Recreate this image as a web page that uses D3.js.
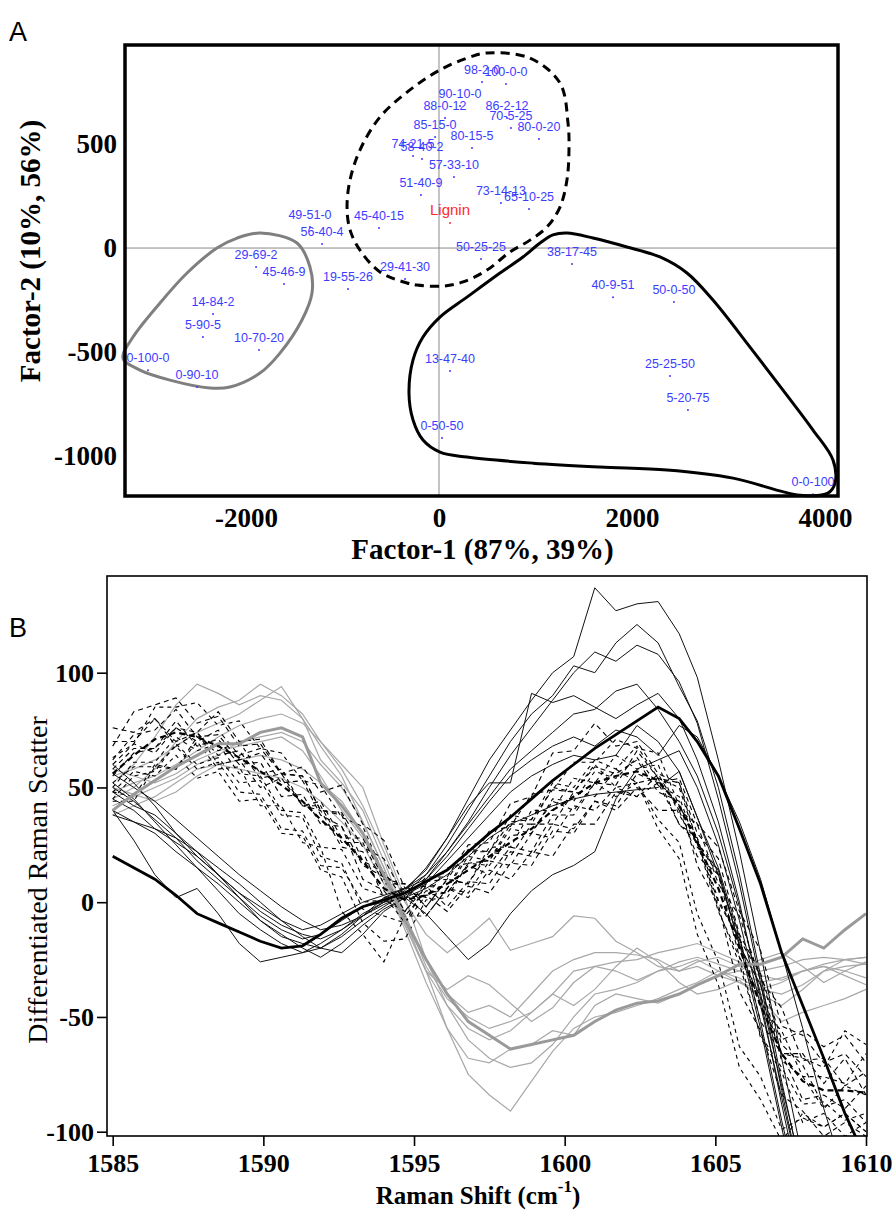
<!DOCTYPE html>
<html>
<head>
<meta charset="utf-8">
<script src="https://cdn.jsdelivr.net/npm/d3@7"></script>
<style>
  body { margin: 0; background: #fff; }
  svg { display: block; }
</style>
</head>
<body>
<svg id="chart" width="896" height="1211"></svg>
<script>
// ---- panel A data: factor scores of each blend (lignin-cellulose-xylan %) ----
let pointNames = ["98-2-0","100-0-0","90-10-0","88-0-12","86-2-12","70-5-25","80-0-20","85-15-0","80-15-5",
  "74-21-5","58-40-2","57-33-10","51-40-9","73-14-13","65-10-25","Lignin","49-51-0","56-40-4","45-40-15",
  "29-69-2","45-46-9","19-55-26","29-41-30","14-84-2","5-90-5","10-70-20","0-100-0","0-90-10","13-47-40",
  "50-25-25","38-17-45","40-9-51","50-0-50","25-25-50","5-20-75","0-50-50","0-0-100"];
let factor1 = [446, 694, 218, 62, 705, 746, 1036, -41, 342, -269, -176, 155, -187, 642, 933, 114, -1337, -1212, -622,
  -1896, -1606, -943, -352, -2342, -2446, -1865, -3016, -2508, 114, 435, 1378, 1803, 2435, 2394, 2580, 31, 3876];
let factor2 = [798, 788, 683, 625, 625, 577, 524, 534, 481, 442, 428, 341, 255, 216, 188, 120, 101, 19, 96,
  -91, -173, -197, -149, -317, -428, -490, -587, -668, -591, -53, -77, -236, -260, -615, -779, -913, -1183];
let ticksF1 = [-2000, 0, 2000, 4000];
let ticksF2 = [-1000, -500, 0, 500];

// hand drawn group outlines, in factor units
let outlineDashed = [[497,938],[943,913],[1254,793],[1337,601],[1347,471],[1326,327],[1254,197],[1119,101],[943,38],
  [736,-19],[497,-106],[249,-163],[41,-183],[-228,-178],[-332,-168],[-611,-115],[-819,-10],[-922,87],[-953,197],
  [-922,327],[-819,471],[-611,630],[-301,760],[10,856],[321,918]];
let outlineGray = [[-1855,72],[-1472,24],[-1337,-91],[-1316,-216],[-1420,-346],[-1648,-505],[-1855,-601],[-2166,-668],
  [-2373,-673],[-2788,-635],[-3099,-587],[-3275,-529],[-3171,-428],[-2891,-264],[-2611,-120],[-2301,0],[-2093,48]];
let outlineBlack = [[1326,72],[1596,48],[1948,5],[2290,-43],[2570,-120],[2839,-250],[3223,-476],[3565,-683],[3876,-875],
  [4083,-1019],[4104,-1130],[4031,-1178],[3741,-1188],[3047,-1106],[2363,-1067],[1668,-1053],[974,-1034],[290,-1005],
  [10,-981],[-166,-923],[-269,-827],[-311,-697],[-269,-538],[-166,-428],[10,-332],[290,-236],[632,-120],[870,-43],
  [1047,24],[1181,63]];

// ---- panel B data: differentiated spectra ----
let shift = [1585.0,1585.7,1586.4,1587.1,1587.8,1588.5,1589.2,1589.9,1590.6,1591.3,1591.9,1592.6,1593.3,1594.0,
  1594.7,1595.4,1596.1,1596.8,1597.5,1598.2,1598.9,1599.6,1600.3,1601.0,1601.7,1602.4,1603.1,1603.8,1604.4,
  1605.1,1605.8,1606.5,1607.2,1607.9,1608.6,1609.3,1610.0];
let ticksShift = [1585, 1590, 1595, 1600, 1605, 1610];
let ticksScatter = [-100, -50, 0, 50, 100];

let grayThin = [
  [52,60,72,86,95,91,86,90,88,80,68,55,35,15,-8,-30,-55,-75,-84,-91,-78,-65,-55,-50,-48,-45,-42,-38,-35,-30,-33,-38,-35,-30,-28,-32,-36],
  [45,50,58,70,80,85,88,95,90,82,70,60,50,25,2,-25,-45,-60,-68,-72,-70,-62,-50,-40,-38,-35,-30,-28,-25,-30,-35,-38,-40,-36,-30,-25,-24],
  [55,58,62,68,74,78,82,88,94,80,62,52,40,18,-5,-28,-42,-50,-55,-52,-48,-40,-30,-28,-26,-25,-22,-20,-18,-22,-26,-30,-28,-25,-24,-25,-27],
  [48,52,55,60,66,72,77,80,82,78,70,58,42,22,0,-14,-22,-15,-7,-21,-18,-15,-6,-7,-17,-22,-28,-30,-26,-24,-28,-32,-34,-30,-27,-25,-24],
  [42,46,50,54,60,64,70,72,74,70,60,50,35,15,-6,-25,-40,-48,-45,-50,-40,-30,-25,-22,-22,-23,-25,-30,-28,-32,-35,-40,-45,-38,-30,-28,-27],
  [58,55,52,56,62,66,68,70,72,66,55,40,28,12,-10,-30,-45,-55,-60,-56,-48,-40,-45,-38,-28,-20,-26,-35,-40,-38,-34,-42,-52,-48,-45,-42,-38],
  [50,47,44,48,55,60,62,64,62,58,52,44,30,10,-12,-35,-55,-68,-70,-64,-62,-56,-58,-45,-40,-42,-44,-40,-36,-32,-30,-25,-22,-28,-35,-30,-26],
  [38,42,46,52,58,60,58,56,54,50,44,35,25,8,-10,-30,-38,-32,-36,-44,-52,-46,-35,-28,-30,-34,-30,-26,-24,-27,-30,-35,-33,-30,-28,-30,-33]
];
let grayMean = [40,47,53,59,64,69,69,74,76,72,52,42,30,12,-8,-25,-40,-52,-58,-64,-62,-60,-58,-52,-47,-44,-43,-40,-36,-32,-27,-27,-24,-16,-20,-12,-5];

let blackThin = [
  [52,45,35,25,15,5,-5,-12,-18,-22,-18,-12,-5,0,5,15,28,45,62,75,88,100,107,137,127,130,131,117,98,62,22,-22,-68,-112,-150,-170,-180],
  [48,42,38,30,22,12,2,-8,-15,-18,-20,-15,-8,-2,4,12,25,40,55,70,82,90,103,100,113,121,113,94,79,50,12,-32,-78,-120,-155,-170,-180],
  [40,35,30,22,15,8,0,-8,-14,-20,-24,-18,-10,-3,2,10,22,35,50,64,76,88,100,109,105,112,108,96,78,45,8,-35,-82,-125,-160,-175,-180],
  [56,50,44,36,28,20,12,5,-2,-8,-12,-10,-6,0,6,14,28,42,52,52,91,87,90,85,80,86,91,80,62,35,0,-42,-88,-130,-160,-175,-180],
  [45,40,32,26,20,12,4,-4,-10,-14,-16,-12,-6,-1,3,8,18,28,38,48,55,60,64,62,64,77,70,57,37,15,-15,-52,-95,-135,-165,-175,-180],
  [38,35,32,28,22,15,8,0,-8,-15,-20,-22,-14,-4,2,6,12,20,28,34,38,42,45,47,48,49,50,57,37,12,-18,-55,-98,-140,-165,-175,-180],
  [50,44,36,28,18,10,2,-6,-12,-16,-14,-8,-2,0,2,-5,-15,-25,-18,-5,5,12,16,22,45,58,62,66,50,25,-8,-45,-85,-125,-160,-175,-180],
  [60,52,42,30,20,12,4,-2,-8,-12,-10,-5,0,3,6,12,22,34,46,58,66,74,82,84,92,95,84,70,55,30,-2,-40,-80,-118,-150,-170,-180],
  [40,27,12,2,6,-5,-18,-26,-24,-22,-20,-14,-6,2,6,10,20,32,44,55,62,68,72,68,75,72,64,77,72,55,35,10,-22,-55,-90,-120,-150]
];
let blackMean = [20,15,10,3,-5,-9,-13,-17,-20,-19,-14,-7,-2,1,4,9,14,22,30,37,45,53,60,67,73,79,85,80,70,55,32,8,-22,-45,-68,-92,-112];

let dashThin = [
  [68,83,86,89,78,81,68,69,56,55,40,38,18,13,1,11,11,25,26,43,46,65,66,78,68,70,56,52,26,12,-24,-41,-66,-66,-79,-68,-84],
  [63,69,85,85,87,77,79,67,65,53,51,37,33,12,5,2,15,17,31,33,47,49,61,61,71,67,65,42,28,-3,-27,-58,-72,-88,-87,-95,-92],
  [55,65,67,79,68,71,60,61,46,47,34,33,16,11,-4,9,10,23,22,35,36,49,48,59,56,62,48,44,16,-1,-39,-56,-84,-91,-102,-96,-102],
  [50,61,61,72,66,69,56,55,40,39,24,23,6,3,-9,3,4,17,16,29,30,45,44,57,54,63,51,46,24,14,-19,-36,-66,-68,-72,-56,-62],
  [76,74,80,68,74,60,62,50,54,42,44,28,28,10,8,-2,10,8,22,20,34,34,48,46,58,52,54,34,26,0,-16,-52,-66,-86,-84,-90,-80],
  [45,55,57,69,60,63,52,53,38,37,20,17,-3,-6,-9,8,6,20,18,32,30,44,40,52,46,52,36,26,-5,-26,-63,-76,-99,-94,-98,-92,-100],
  [62,73,75,84,72,73,62,65,52,53,38,33,10,5,-6,5,4,16,12,24,22,38,38,52,51,66,54,52,30,19,-14,-31,-60,-56,-63,-58,-70],
  [44,44,59,58,70,58,59,42,42,26,24,-4,-14,-26,-6,-6,6,4,18,16,30,28,42,40,50,46,52,34,28,1,-16,-46,-56,-76,-76,-79,-66],
  [58,67,67,76,70,75,64,67,56,59,48,51,34,27,6,7,-2,9,8,22,20,34,32,44,40,50,40,40,20,12,-16,-32,-62,-71,-89,-86,-96],
  [52,59,59,68,58,61,48,47,32,31,16,15,0,1,-4,7,6,22,22,38,36,52,50,62,58,68,54,50,26,14,-19,-36,-69,-76,-90,-80,-84],
  [70,70,80,70,74,64,66,54,56,42,40,24,22,2,4,-6,6,2,14,10,22,20,34,34,48,46,56,40,34,8,-6,-34,-46,-69,-68,-80,-74],
  [48,57,55,64,54,57,44,45,30,29,14,11,-9,-17,-16,1,2,17,18,34,34,50,48,60,50,52,32,19,-14,-36,-72,-86,-104,-92,-98,-92,-100],
  [60,69,65,76,74,83,70,71,56,55,40,39,24,19,2,3,-4,7,4,17,16,31,30,44,42,56,52,54,34,24,-4,-21,-54,-58,-70,-66,-76],
  [48,46,60,58,72,66,70,56,58,42,42,26,26,8,8,-2,10,8,24,24,40,40,54,52,64,58,60,38,26,-4,-24,-59,-74,-96,-92,-102,-96]
];
let dashMean = [56,64,71,74,72,68,63,57,51,44,36,28,18,6,1,3,8,14,20,26,32,40,46,52,55,57,53,42,26,6,-20,-45,-66,-78,-82,-82,-83];

const serif = '"Times New Roman", "Liberation Serif", serif';
const sans = 'Arial, "Liberation Sans", sans-serif';
let svg = d3.select("#chart");

// ================= panel A =================
function drawPanelA() {
  let xA = d3.scaleLinear().domain([-3254, 4135]).range([125, 838]);
  let yA = d3.scaleLinear().domain([-1192, 976]).range([496, 45]);
  let [left, right] = xA.range();
  let [bottom, top] = yA.range();
  let g = svg.append("g");

  g.append("line").attr("x1", xA(0)).attr("x2", xA(0)).attr("y1", top).attr("y2", bottom)
    .attr("stroke", "#8a8a8a").attr("stroke-width", 1);
  g.append("line").attr("x1", left).attr("x2", right).attr("y1", yA(0)).attr("y2", yA(0))
    .attr("stroke", "#8a8a8a").attr("stroke-width", 1);

  let outline = d3.line().x(d => xA(d[0])).y(d => yA(d[1])).curve(d3.curveCatmullRomClosed.alpha(0.5));
  g.append("path").attr("d", outline(outlineGray)).attr("fill", "none")
    .attr("stroke", "#7f7f7f").attr("stroke-width", 3);
  g.append("path").attr("d", outline(outlineDashed)).attr("fill", "none")
    .attr("stroke", "#000").attr("stroke-width", 3).attr("stroke-dasharray", "9,6");
  g.append("path").attr("d", outline(outlineBlack)).attr("fill", "none")
    .attr("stroke", "#000").attr("stroke-width", 3);

  let pts = pointNames.map((n, i) => ({name: n, f1: factor1[i], f2: factor2[i]}));
  g.selectAll("circle.pt").data(pts).enter().append("circle")
    .attr("class", "pt")
    .attr("cx", d => xA(d.f1)).attr("cy", d => yA(d.f2)).attr("r", 1)
    .attr("fill", d => d.name == "Lignin" ? "#ff2a2a" : "#3c3cff");
  g.selectAll("text.lab").data(pts).enter().append("text")
    .attr("class", "lab")
    .attr("x", d => xA(d.f1)).attr("y", d => yA(d.f2) - 8)
    .attr("text-anchor", "middle")
    .attr("font-family", sans)
    .attr("font-size", d => d.name == "Lignin" ? 15 : 12.5)
    .attr("fill", d => d.name == "Lignin" ? "#ff2a2a" : "#3c3cff")
    .text(d => d.name);

  let ax = g.append("g").attr("transform", `translate(0,${bottom})`)
    .call(d3.axisBottom(xA).tickValues(ticksF1).tickSize(0).tickPadding(12).tickFormat(d => String(d)));
  let ay = g.append("g").attr("transform", `translate(${left},0)`)
    .call(d3.axisLeft(yA).tickValues(ticksF2).tickSize(0).tickPadding(8).tickFormat(d => String(d)));
  for (let a of [ax, ay]) {
    a.select(".domain").remove();
    a.attr("font-family", serif).attr("font-size", 27).attr("font-weight", "bold");
    a.selectAll("text").attr("fill", "#000");
  }

  g.append("rect").attr("x", left).attr("y", top).attr("width", right - left).attr("height", bottom - top)
    .attr("fill", "none").attr("stroke", "#000").attr("stroke-width", 3.5);

  g.append("text").attr("x", (left + right) / 2 + 1).attr("y", 559)
    .attr("text-anchor", "middle").attr("font-family", serif).attr("font-size", 29).attr("font-weight", "bold")
    .text("Factor-1 (87%, 39%)");
  g.append("text").attr("transform", `translate(40,251) rotate(-90)`)
    .attr("text-anchor", "middle").attr("font-family", serif).attr("font-size", 29).attr("font-weight", "bold")
    .text("Factor-2 (10%, 56%)");
  g.append("text").attr("x", 9).attr("y", 41).attr("font-family", sans).attr("font-size", 27).text("A");
}

// ================= panel B =================
function drawPanelB() {
  let xB = d3.scaleLinear().domain([1585, 1610]).range([112.7, 866]);
  let yB = d3.scaleLinear().domain([-100, 100]).range([1131.7, 672.7]);
  let box = {left: 107, right: 867, top: 576, bottom: 1136};
  let g = svg.append("g");

  g.append("clipPath").attr("id", "clipB").append("rect")
    .attr("x", box.left).attr("y", box.top)
    .attr("width", box.right - box.left).attr("height", box.bottom - box.top);

  let line = d3.line().x((d, i) => xB(shift[i])).y(d => yB(d));
  let lines = g.append("g").attr("clip-path", "url(#clipB)");

  lines.selectAll("path.gray").data(grayThin).enter().append("path").attr("class", "gray")
    .attr("d", line).attr("fill", "none").attr("stroke", "#a8a8a8").attr("stroke-width", 1.2);
  lines.selectAll("path.dash").data(dashThin).enter().append("path").attr("class", "dash")
    .attr("d", line).attr("fill", "none").attr("stroke", "#000").attr("stroke-width", 1.1)
    .attr("stroke-dasharray", (d, i) => i % 2 ? "4,4" : "5,4");
  lines.selectAll("path.black").data(blackThin).enter().append("path").attr("class", "black")
    .attr("d", line).attr("fill", "none").attr("stroke", "#111").attr("stroke-width", 1);
  lines.append("path").attr("d", line(grayMean)).attr("fill", "none")
    .attr("stroke", "#9a9a9a").attr("stroke-width", 3);
  lines.append("path").attr("d", line(dashMean)).attr("fill", "none")
    .attr("stroke", "#000").attr("stroke-width", 2.2).attr("stroke-dasharray", "6,4");
  lines.append("path").attr("d", line(blackMean)).attr("fill", "none")
    .attr("stroke", "#000").attr("stroke-width", 2.8);

  let ax = g.append("g").attr("transform", `translate(0,${box.bottom})`)
    .call(d3.axisBottom(xB).tickValues(ticksShift).tickSize(10).tickPadding(8).tickFormat(d => String(d)));
  let ay = g.append("g").attr("transform", `translate(${box.left},0)`)
    .call(d3.axisLeft(yB).tickValues(ticksScatter).tickSize(10).tickPadding(3).tickFormat(d => String(d)));
  for (let a of [ax, ay]) {
    a.select(".domain").remove();
    a.attr("font-family", serif).attr("font-size", 26).attr("font-weight", "bold");
    a.selectAll("line").attr("stroke", "#000").attr("stroke-width", 1.6);
    a.selectAll("text").attr("fill", "#000");
  }

  g.append("rect").attr("x", box.left).attr("y", box.top)
    .attr("width", box.right - box.left).attr("height", box.bottom - box.top)
    .attr("fill", "none").attr("stroke", "#000").attr("stroke-width", 1.6);

  let xt = g.append("text").attr("x", 478).attr("y", 1204).attr("text-anchor", "middle")
    .attr("font-family", serif).attr("font-size", 25).attr("font-weight", "bold");
  xt.append("tspan").text("Raman Shift (cm");
  xt.append("tspan").attr("font-size", 17).attr("dy", -12).text("-1");
  xt.append("tspan").attr("dy", 12).text(")");

  g.append("text").attr("transform", `translate(47,880) rotate(-90)`)
    .attr("text-anchor", "middle").attr("font-family", serif).attr("font-size", 28)
    .text("Differentiated Raman Scatter");
  g.append("text").attr("x", 9).attr("y", 637).attr("font-family", sans).attr("font-size", 27).text("B");
}

drawPanelA();
drawPanelB();
</script>
</body>
</html>
